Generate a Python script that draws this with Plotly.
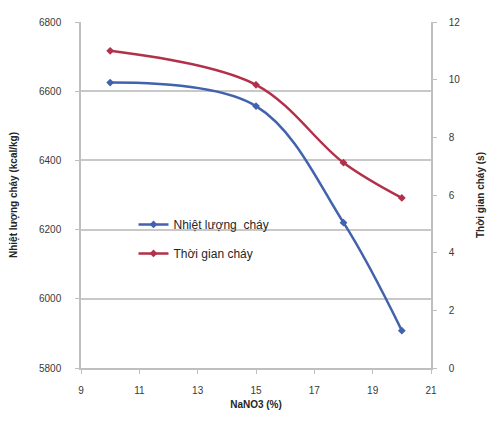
import plotly.graph_objects as go

# NaNO3 content (%) and measured results
nano3 = [10, 15, 18, 20]
heat_value = [6625, 6557, 6220, 5908]      # kcal/kg
burn_time = [11.0, 9.82, 7.12, 5.9]        # s

x_ticks = [9, 11, 13, 15, 17, 19, 21]
left_ticks = [5800, 6000, 6200, 6400, 6600, 6800]
right_ticks = [0, 2, 4, 6, 8, 10, 12]

BLUE = "#4262ad"
RED = "#b2304a"
FONT = "Liberation Sans"

fig = go.Figure()
fig.add_trace(go.Scatter(
    x=nano3, y=heat_value, name="Nhiệt lượng  cháy", legendgroup="heat",
    mode="lines+markers", line=dict(color=BLUE, width=2.5, shape="spline", smoothing=1),
    marker=dict(symbol="diamond", size=6, color=BLUE), yaxis="y"))
fig.add_trace(go.Scatter(
    x=nano3, y=burn_time, name="Thời gian cháy", legendgroup="time",
    mode="lines+markers", line=dict(color=RED, width=2.5, shape="spline", smoothing=1),
    marker=dict(symbol="diamond", size=6, color=RED), yaxis="y2"))

axis_font = dict(family=FONT, size=10, color="#383838")
title_font = dict(family=FONT, size=10, color="#262626")

fig.update_layout(
    width=497, height=422,
    margin=dict(l=80, r=64, t=22, b=54),
    paper_bgcolor="white", plot_bgcolor="white",
    font=dict(family=FONT, size=10, color="#383838"),
    xaxis=dict(range=[9, 21], tickvals=x_ticks, showgrid=False,
               showline=True, linecolor="#bfbfbf", linewidth=1.5,
               ticks="outside", ticklen=4, tickcolor="#bfbfbf",
               tickfont=axis_font, zeroline=False, ticklabelstandoff=8,
               title=dict(text="<b>NaNO3 (%)</b>", font=title_font, standoff=6)),
    yaxis=dict(range=[5800, 6800], tickvals=left_ticks, showgrid=True,
               gridcolor="#c8c8c8", gridwidth=1.5,
               showline=True, linecolor="#bfbfbf", linewidth=1.5,
               ticks="outside", ticklen=4, tickcolor="#bfbfbf",
               tickfont=axis_font, zeroline=False, ticklabelstandoff=12,
               title=dict(text="<b>Nhiệt lượng cháy (kcal/kg)</b>", font=title_font, standoff=20)),
    yaxis2=dict(range=[0, 12], tickvals=right_ticks, overlaying="y", side="right",
                showgrid=False, showline=True, linecolor="#bfbfbf", linewidth=1.5,
                ticks="outside", ticklen=4, tickcolor="#bfbfbf",
                tickfont=axis_font, zeroline=False, ticklabelstandoff=10,
                title=dict(text="<b>Thời gian cháy (s)</b>", font=title_font, standoff=18)),
    legend=dict(x=0.15, y=0.457, xanchor="left", yanchor="top",
                bgcolor="rgba(255,255,255,0)", font=dict(family=FONT, size=12, color="#262626"),
                tracegroupgap=10, itemwidth=30),
    showlegend=True,
)

fig.write_html("out.html")
